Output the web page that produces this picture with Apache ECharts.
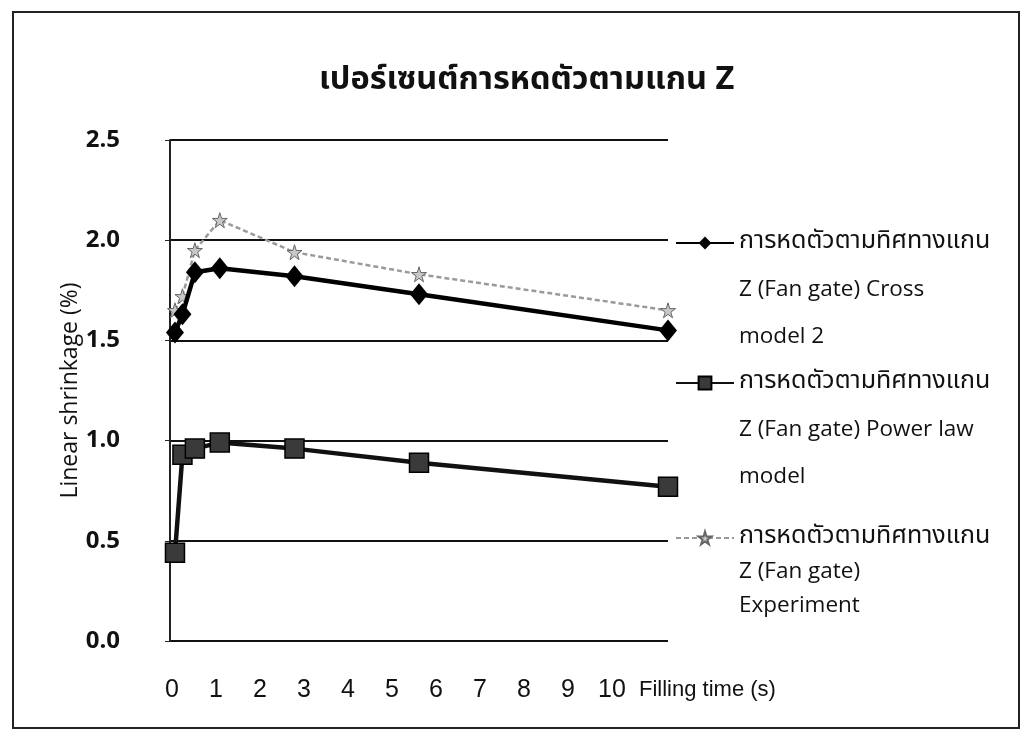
<!DOCTYPE html>
<html>
<head>
<meta charset="utf-8">
<script src="https://cdn.jsdelivr.net/npm/echarts@6/dist/echarts.min.js"></script>
<style>
html,body{margin:0;padding:0;background:#fff;}
#chart{width:1024px;height:742px;}
</style>
</head>
<body>
<div id="chart"></div>
<script>
// filling time (s)
var fillTime = [0.1, 0.25, 0.5, 1, 2.5, 5, 10];
// shrinkage (%)
var crossModel = [1.54, 1.63, 1.84, 1.86, 1.82, 1.73, 1.55];
var powerLaw = [0.44, 0.93, 0.96, 0.99, 0.96, 0.89, 0.77];
var experiment = [1.65, 1.72, 1.95, 2.10, 1.94, 1.83, 1.65];
var xTicks = [0, 1, 2, 3, 4, 5, 6, 7, 8, 9, 10];
var yTicks = [0, 0.5, 1.0, 1.5, 2.0, 2.5];

var seriesNames = [
    "การหดตัวตามทิศทางแกน Z (Fan gate) Cross model 2",
    "การหดตัวตามทิศทางแกน Z (Fan gate) Power law model",
    "การหดตัวตามทิศทางแกน Z (Fan gate) Experiment"
];
// legend text split over lines like the original
var legendLines = [
    ["การหดตัวตามทิศทางแกน", "Z (Fan gate) Cross", "model 2"],
    ["การหดตัวตามทิศทางแกน", "Z (Fan gate) Power law", "model"],
    ["การหดตัวตามทิศทางแกน", "Z (Fan gate)", "Experiment"]
];

function pairs(xs, ys) {
    var out = [];
    for (var i = 0; i < xs.length; i++) {
        out.push([xs[i], ys[i]]);
    }
    return out;
}

var thaiFont = "'Noto Sans Thai','Noto Sans','DejaVu Sans',sans-serif";
var latinFont = "'Open Sans','Noto Sans',sans-serif";
var narrowFont = "'Liberation Sans Narrow','Liberation Sans',sans-serif";
var star = "path://M50,0 L61,35 L98,35 L68,57 L79,91 L50,70 L21,91 L32,57 L2,35 L39,35 Z";

// one legend per series; two blank lines in front keep the icon on the first text line
function legendFor(idx, iconY, lh) {
    var lines = legendLines[idx];
    return {
        data: [seriesNames[idx]],
        orient: "vertical",
        left: 675,
        top: iconY - 2.5 * lh,
        padding: 0,
        itemWidth: 58,
        itemHeight: 16,
        itemGap: 0,
        selectedMode: false,
        formatter: function () {
            return "\n\n{t|" + lines[0] + "}\n{l|" + lines[1] + "}\n{l|" + lines[2] + "}";
        },
        textStyle: {
            fontFamily: latinFont,
            fontSize: 22,
            color: "#111",
            lineHeight: lh,
            rich: {
                t: { fontFamily: thaiFont, fontSize: 25, color: "#111", lineHeight: lh },
                l: { fontFamily: latinFont, fontSize: 22.5, color: "#111", lineHeight: lh }
            }
        }
    };
}

var myChart = echarts.init(document.getElementById("chart"));
var option = {
    backgroundColor: "#fff",
    animation: false,
    title: {
        text: "เปอร์เซนต์การหดตัวตามแกน Z",
        left: 314,
        top: 61,
        textStyle: {
            fontFamily: thaiFont,
            fontSize: 32.5,
            fontWeight: "bold",
            color: "#111"
        }
    },
    graphic: [{
        type: "rect",
        shape: { x: 13, y: 12, width: 1006, height: 716 },
        style: { fill: "none", stroke: "#222", lineWidth: 2 }
    }],
    legend: [
        legendFor(0, 243, 47),
        legendFor(1, 383, 47),
        legendFor(2, 538, 34)
    ],
    grid: [
        { left: 170, right: 356, top: 140, bottom: 101 },
        { left: 172, right: 412, top: 140, bottom: 52 }
    ],
    xAxis: [{
        type: "value",
        gridIndex: 0,
        min: 0,
        max: 10,
        axisLine: { show: false },
        axisTick: { show: false },
        axisLabel: { show: false },
        splitLine: { show: false }
    }, {
        type: "value",
        gridIndex: 1,
        min: xTicks[0],
        max: xTicks[xTicks.length - 1],
        interval: 1,
        axisLine: { show: false },
        axisTick: { show: false },
        splitLine: { show: false },
        axisLabel: {
            margin: 0,
            verticalAlign: "middle",
            fontFamily: narrowFont,
            fontSize: 25,
            color: "#111"
        },
        name: "Filling time (s)",
        nameLocation: "end",
        nameGap: 27,
        nameTextStyle: {
            fontFamily: narrowFont,
            fontSize: 22,
            color: "#111",
            verticalAlign: "middle"
        }
    }],
    yAxis: [{
        type: "value",
        gridIndex: 0,
        min: yTicks[0],
        max: yTicks[yTicks.length - 1],
        interval: 0.5,
        axisLine: { show: true, lineStyle: { color: "#222", width: 2 } },
        axisTick: { show: true, length: 5, lineStyle: { color: "#222" } },
        splitLine: { show: true, lineStyle: { color: "#111", width: 2 } },
        axisLabel: {
            margin: 50,
            fontFamily: latinFont,
            fontSize: 24,
            fontWeight: "bold",
            color: "#111",
            formatter: function (v) { return v.toFixed(1); }
        },
        name: "Linear shrinkage (%)",
        nameLocation: "middle",
        nameGap: 82,
        nameTextStyle: {
            fontFamily: latinFont,
            fontSize: 23,
            color: "#111"
        }
    }, {
        type: "value",
        gridIndex: 1,
        show: false,
        min: 0,
        max: 1
    }],
    series: [{
        name: seriesNames[0],
        type: "line",
        xAxisIndex: 0,
        yAxisIndex: 0,
        data: pairs(fillTime, crossModel),
        symbol: "diamond",
        symbolSize: [18, 22],
        lineStyle: { color: "#000", width: 4.5 },
        itemStyle: { color: "#000" },
        z: 3
    }, {
        name: seriesNames[1],
        type: "line",
        xAxisIndex: 0,
        yAxisIndex: 0,
        data: pairs(fillTime, powerLaw),
        symbol: "rect",
        symbolSize: 19,
        lineStyle: { color: "#111", width: 4.5 },
        itemStyle: { color: "#3a3a3a", borderColor: "#000", borderWidth: 1.5 },
        z: 3
    }, {
        name: seriesNames[2],
        type: "line",
        xAxisIndex: 0,
        yAxisIndex: 0,
        data: pairs(fillTime, experiment),
        symbol: star,
        symbolSize: 15,
        lineStyle: { color: "#9a9a9a", width: 2.5, type: [5, 3] },
        itemStyle: { color: "#c8c8c8", borderColor: "#666", borderWidth: 1 },
        z: 2
    }]
};
myChart.setOption(option);
</script>
</body>
</html>
